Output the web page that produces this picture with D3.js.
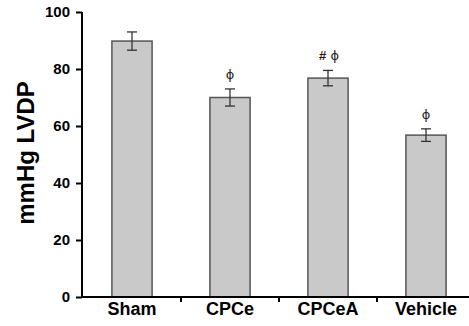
<!DOCTYPE html>
<html><head><meta charset="utf-8">
<script src="https://cdn.jsdelivr.net/npm/d3@7"></script>
<style>html,body{margin:0;padding:0;background:#fff;}svg{display:block;}</style>
</head><body>
<svg id="c" width="469" height="326"></svg>
<script>
const categories = ["Sham", "CPCe", "CPCeA", "Vehicle"];
const values = [89.8, 70, 76.8, 56.8];
const errors = [3.2, 3.0, 2.7, 2.2];
const annotations = ["", "ϕ", "#ϕ", "ϕ"];
const yTicks = [0, 20, 40, 60, 80, 100];
const yLabel = "mmHg LVDP";

const svg = d3.select("#c");
const x = d3.scaleBand().domain(categories).range([83, 475]).paddingInner(0.59).paddingOuter(0.295);
const y = d3.scaleLinear().domain([0, 100]).range([297, 12]);

// bars
svg.selectAll("rect.bar").data(categories).join("rect")
  .attr("x", d => x(d)).attr("width", x.bandwidth())
  .attr("y", (d,i) => y(values[i])).attr("height", (d,i) => y(0) - y(values[i]))
  .attr("fill", "#c9c9c9").attr("stroke", "#555").attr("stroke-width", 1.5);

// error bars
const eb = svg.append("g").attr("stroke", "#333").attr("stroke-width", 1.3);
categories.forEach((c,i) => {
  const cx = x(c) + x.bandwidth()/2;
  eb.append("line").attr("x1", cx).attr("x2", cx).attr("y1", y(values[i]+errors[i])).attr("y2", y(values[i]-errors[i]));
  eb.append("line").attr("x1", cx-5).attr("x2", cx+5).attr("y1", y(values[i]+errors[i])).attr("y2", y(values[i]+errors[i]));
  eb.append("line").attr("x1", cx-5).attr("x2", cx+5).attr("y1", y(values[i]-errors[i])).attr("y2", y(values[i]-errors[i]));
});

// annotations
categories.forEach((c,i) => {
  const a = annotations[i];
  if (!a) return;
  const cx = x(c) + x.bandwidth()/2;
  const ty = y(values[i]+errors[i]) - 10;
  const t = svg.append("text").attr("x", cx + (a.startsWith("#") ? 1 : 0)).attr("y", ty).attr("text-anchor", "middle")
    .attr("font-family", "DejaVu Sans, sans-serif").attr("font-size", 13);
  if (a.startsWith("#")) {
    t.append("tspan").text("#").attr("fill", "#3a1414").attr("font-weight", "bold").attr("font-family", "Liberation Sans, Arial, sans-serif");
    t.append("tspan").text(" " + a.slice(1)).attr("fill", "#222");
  } else {
    t.text(a).attr("fill", "#222");
  }
});

// y axis
const ya = svg.append("g").attr("transform", "translate(82,0)")
  .call(d3.axisLeft(y).tickValues(yTicks).tickSize(6).tickPadding(6));
ya.select(".domain").attr("stroke", "#000").attr("stroke-width", 2).attr("d", `M0,${y(100)}V${y(0)}`);
ya.selectAll(".tick line").attr("stroke", "#000").attr("stroke-width", 2);
ya.selectAll(".tick text").attr("font-family", "Liberation Sans, Arial, sans-serif").attr("font-weight", "bold").attr("font-size", 15).attr("fill", "#000");

// x axis
const xa = svg.append("g").attr("transform", `translate(0,${y(0)})`);
xa.append("line").attr("x1", 81).attr("x2", 469).attr("y1", 0).attr("y2", 0).attr("stroke", "#000").attr("stroke-width", 2);
const step = x.step();
categories.slice(1).forEach(c => {
  const bx = x(c) - (step - x.bandwidth())/2;
  xa.append("line").attr("x1", bx).attr("x2", bx).attr("y1", 0).attr("y2", 5).attr("stroke", "#000").attr("stroke-width", 2);
});
xa.selectAll("text.cat").data(categories).join("text")
  .attr("x", d => x(d) + x.bandwidth()/2).attr("y", 18).attr("text-anchor", "middle")
  .attr("font-family", "Liberation Sans, Arial, sans-serif").attr("font-weight", "bold").attr("font-size", 18).attr("fill", "#000")
  .text(d => d);

// y label
svg.append("text").attr("transform", "translate(34,153) rotate(-90)").attr("text-anchor", "middle")
  .attr("font-family", "Liberation Sans, Arial, sans-serif").attr("font-weight", "bold").attr("font-size", 24).attr("fill", "#000")
  .text(yLabel);
</script>
</body></html>
